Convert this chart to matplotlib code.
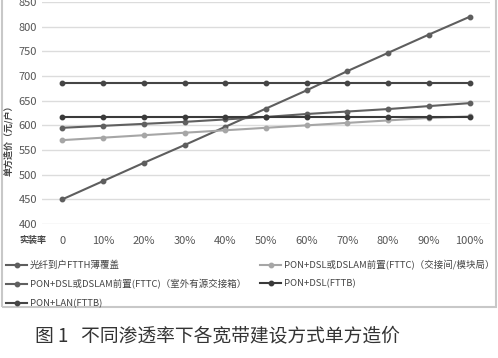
import matplotlib
matplotlib.use("Agg")
import matplotlib.pyplot as plt
from matplotlib.patches import Rectangle

plt.rcParams['font.family'] = ['Noto Sans CJK SC', 'DejaVu Sans']

rates = ["0", "10%", "20%", "30%", "40%", "50%", "60%", "70%", "80%", "90%", "100%"]
ftth_thin = [450, 487, 524, 560, 597, 634, 671, 710, 747, 784, 820]
fttc_room = [570, 575, 580, 585, 590, 595, 600, 605, 610, 615, 618]
fttc_cabinet = [595, 599, 603, 607, 612, 617, 623, 628, 633, 639, 645]
fttb_dsl = [617] * 11
fttb_lan = [685] * 11

names = ["光纤到户FTTH薄覆盖",
         "PON+DSL或DSLAM前置(FTTC)（交接间/模块局）",
         "PON+DSL或DSLAM前置(FTTC)（室外有源交接箱）",
         "PON+DSL(FTTB)",
         "PON+LAN(FTTB)"]
series = [ftth_thin, fttc_room, fttc_cabinet, fttb_dsl, fttb_lan]
colors = ["#5e5e5e", "#a6a6a6", "#606060", "#3a3a3a", "#454545"]

fig = plt.figure(figsize=(4.98, 3.58), dpi=100)
ax = fig.add_axes([42 / 498, 1 - 224 / 358, 448 / 498, 222 / 358])

x = list(range(len(rates)))
handles = []
for vals, name, c in zip(series, names, colors):
    h, = ax.plot(x, vals, color=c, lw=1.5, marker="o", ms=3.2, label=name)
    handles.append(h)

ax.set_xlim(-0.5, 10.5)
ax.set_ylim(400, 850)
ax.set_yticks(range(400, 851, 50))
ax.set_xticks(x)
ax.set_xticklabels(rates)
ax.tick_params(length=0, labelsize=8, colors="#555555")
ax.tick_params(axis="x", pad=9)
ax.grid(axis="y", color="#dcdcdc", lw=1)
ax.set_axisbelow(True)
for s in ax.spines.values():
    s.set_visible(False)

fig.text(8 / 498, 1 - 138 / 358, "单方造价（元/户）", rotation=90, ha="center", va="center",
         fontsize=6.5, fontweight="bold", color="#444444")
fig.text(33 / 498, 1 - 241 / 358, "实装率", ha="center", va="center",
         fontsize=6.5, fontweight="bold", color="#444444")

order = [0, 2, 4, 1, 3]
fig.legend([handles[i] for i in order], [names[i] for i in order], ncol=2,
           loc="upper left", bbox_to_anchor=(0.005, 1 - 256 / 358), frameon=False,
           fontsize=6.8, labelcolor="#444444", handlelength=2.2, handletextpad=0.3,
           columnspacing=1.5, labelspacing=1.0, borderaxespad=0)

fig.patches.append(Rectangle((2 / 498, 1 - 307 / 358), 494 / 498, 310 / 358,
                             transform=fig.transFigure, fill=False,
                             edgecolor="#c8c8c8", lw=1.5))

fig.text(35 / 498, 1 - 336 / 358, "图 1   不同渗透率下各宽带建设方式单方造价", ha="left", va="center",
         fontsize=13.5, color="#333333")

fig.savefig("out.png", dpi=100)
